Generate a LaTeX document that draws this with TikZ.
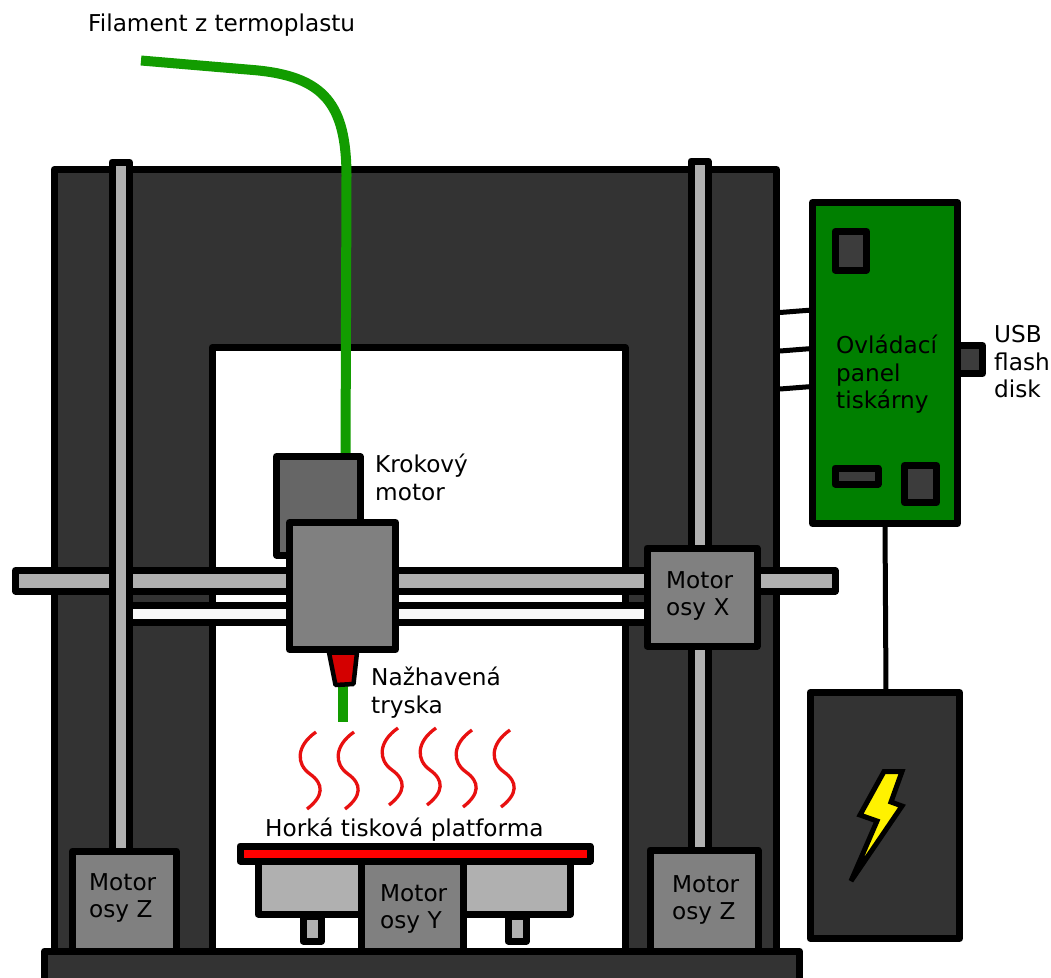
\documentclass[tikz,border=0pt]{standalone}
\usepackage{fontspec}
\setmainfont{DejaVu Sans}
\definecolor{dark}{HTML}{333333}
\definecolor{rodgray}{HTML}{B0B0B0}
\definecolor{midgray}{HTML}{808080}
\definecolor{motorgray}{HTML}{666666}
\definecolor{filgreen}{HTML}{129C00}
\definecolor{boardgreen}{HTML}{007F00}
\definecolor{chip}{HTML}{3C3C3C}
\definecolor{nozzlered}{HTML}{D40000}
\definecolor{heatred}{HTML}{E81010}
\tikzset{
 part/.style={draw=black,line width=7pt,line join=round,inner sep=0pt,outer sep=0pt,rectangle},
 wire/.style={draw=black,line width=5pt},
 fil/.style={draw=filgreen,line width=10pt},
 heat/.style={draw=heatred,line width=3.3pt},
 lab/.style={font=\fontsize{23.2pt}{27.4pt}\selectfont,align=left,anchor=north west,inner sep=0pt,text=black},
}
% name, fill, x1, y1, x2, y2 (centre lines of the outline)
\newcommand{\partbox}[6]{\node[part,fill=#2,minimum width={(#5-#3)*1pt},minimum height={(#6-#4)*1pt}] (#1) at ({(#3+#5)/2},{(#4+#6)/2}) {};}
\newcommand{\waveline}[2]{\draw[heat] (#1+316,#2+732) .. controls (#1+296,#2+746) and (#1+296,#2+764) .. (#1+310,#2+774) .. controls (#1+324,#2+784) and (#1+324,#2+796) .. (#1+307,#2+809);}
\begin{document}
\begin{tikzpicture}[x=1pt,y=-1pt]
\useasboundingbox (0,0) rectangle (1051,977);
% frame
\path[part,fill=dark,even odd rule] (54,169.5) rectangle (776.5,952) (212,347.5) rectangle (625,952);
% filament
\coordinate (fa) at (141,60.5);
\coordinate (fb) at (345.5,458);
\draw[fil] (fa) -- (253,70) .. controls (325,76) and (346,105) .. (346.5,175) -- (fb);
% rods
\partbox{xrodb}{white!97!black}{125}{605.5}{650}{622}
\partbox{xroda}{rodgray}{15.5}{570.5}{835}{591}
\partbox{zrodl}{rodgray}{112}{162}{129.5}{856}
\partbox{zrodr}{rodgray}{691}{161}{708}{856}
% motors of the Z axis
\partbox{mzl}{midgray}{72.5}{851}{176}{952}
\partbox{mzr}{midgray}{650}{850}{758}{952}
\partbox{mx}{midgray}{647}{548}{757}{646}
% print head
\partbox{stepper}{motorgray}{276.5}{456.5}{360}{555}
\partbox{head}{midgray}{289.5}{522.5}{395.5}{649.5}
\coordinate (ga) at (343,684);
\coordinate (gb) at (343,722);
\draw[fil] (ga) -- (gb);
\draw[draw=black,line width=4.5pt,line join=round,fill=nozzlered] (329,652.5) -- (357,652.5) -- (353.5,684) -- (335.5,685) -- cycle;
% heat
\waveline{0}{0}
\waveline{38}{0}
\waveline{82}{-4}
\waveline{120}{-4}
\waveline{156}{-2}
\waveline{194}{-2}
% table
\partbox{wl}{rodgray}{303}{916}{321.5}{941}
\partbox{wr}{rodgray}{508}{916}{526.5}{941}
\partbox{carrier}{rodgray}{258}{860}{570.5}{914}
\partbox{my}{midgray}{361.5}{860}{463.5}{952}
\partbox{bed}{red}{240}{846}{590}{861}
% base
\partbox{base}{dark}{44.5}{951}{799.5}{990}
% electronics
\partbox{usb}{chip}{950}{345.5}{982.5}{373.5}
\coordinate (wa1) at (780,312.5); \coordinate (wb1) at (812,310);
\coordinate (wa2) at (780,351); \coordinate (wb2) at (812,348.5);
\coordinate (wa3) at (780,389); \coordinate (wb3) at (812,386.5);
\draw[wire] (wa1) -- (wb1);
\draw[wire] (wa2) -- (wb2);
\draw[wire] (wa3) -- (wb3);
\partbox{psu}{dark}{810}{692.5}{959.5}{938.5}
\partbox{panel}{boardgreen}{812.5}{202.5}{957.5}{523.5}
\draw[wire] (panel.south -| 885,0) -- (psu.north -| 886,0);
\partbox{b1}{chip}{835}{231.5}{866.5}{270}
\partbox{b2}{chip}{904.5}{465.5}{936.5}{502.5}
\partbox{b3}{chip}{835}{468}{878}{484}
\draw[draw=black,line width=5pt,miter limit=10,fill=yellow] (884,771.5) -- (902,771.5) -- (891,802) -- (902,806) -- (851,881) -- (877,821) -- (860,815) -- cycle;
% text
\node[lab] (t1) at (88,14) {Filament z termoplastu};
\node[lab] (t2) at (375,454) {Krokový\\motor};
\node[lab] (t3) at (371,667) {Nažhavená\\tryska};
\node[lab] (t4) at (265,818) {Horká tisková platforma};
\node[lab] (t5) at (836,335) {Ovládací\\panel\\tiskárny};
\node[lab] (t6) at (994,325.5) {USB\\flash\\disk};
\node[lab] (t7) at (666,571) {Motor\\osy X};
\node[lab] (t8) at (89,873) {Motor\\osy Z};
\node[lab] (t9) at (380,884) {Motor\\osy Y};
\node[lab] (t10) at (672,875) {Motor\\osy Z};
\end{tikzpicture}
\end{document}
